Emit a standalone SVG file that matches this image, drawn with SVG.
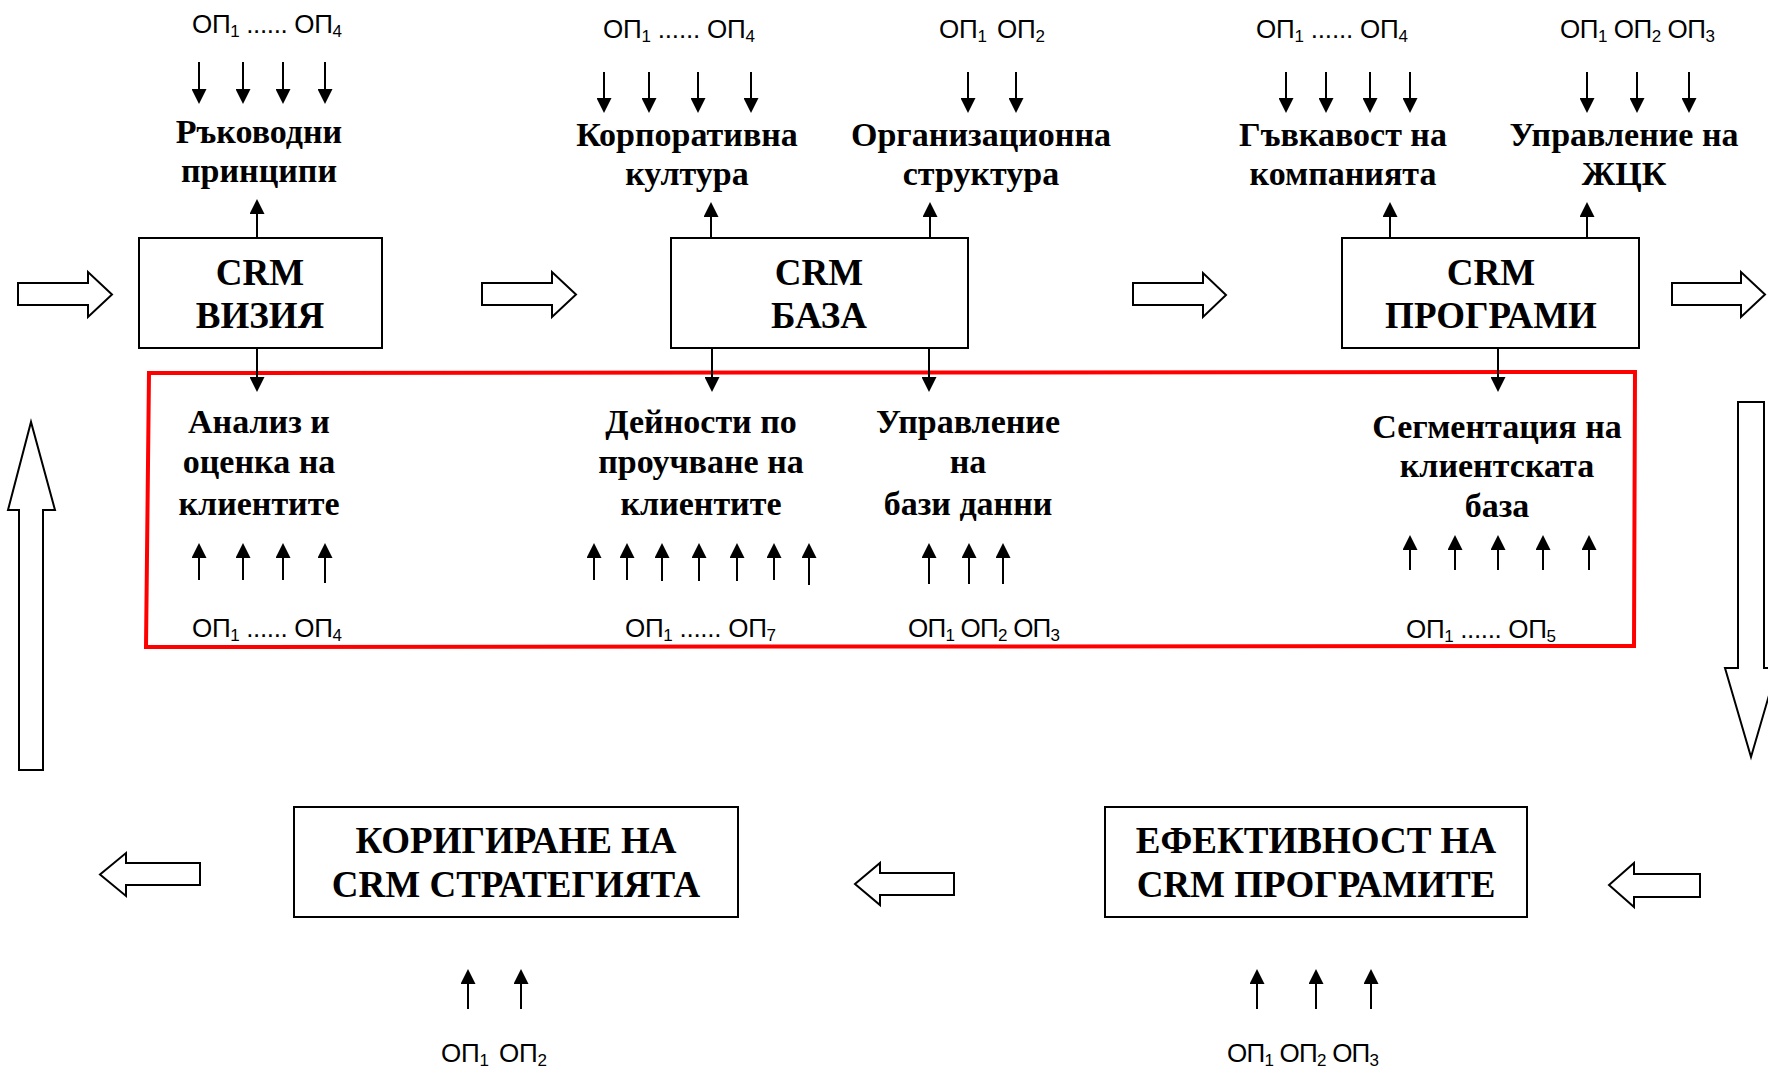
<svg xmlns="http://www.w3.org/2000/svg" width="1768" height="1068" viewBox="0 0 1768 1068">
<style>
.lbl{font-family:"Liberation Serif","Times New Roman",serif;font-weight:bold;font-size:34px;text-anchor:middle;fill:#000}
.bt{font-family:"Liberation Serif","Times New Roman",serif;font-weight:bold;font-size:37px;text-anchor:middle;fill:#000}
.op{font-family:"Liberation Sans",Arial,sans-serif;font-size:26px;fill:#000}
.sub{font-size:17px}
.box{fill:#fff;stroke:#000;stroke-width:2}
.ar{stroke:#000;stroke-width:2;fill:none;marker-end:url(#ah)}
.blk{fill:#fff;stroke:#000;stroke-width:2}
.red{fill:none;stroke:#ff0000;stroke-width:4}
</style>
<defs>
<marker id="ah" markerUnits="userSpaceOnUse" markerWidth="16" markerHeight="15" viewBox="0 0 16 15" refX="1" refY="7.5" orient="auto"><path d="M0,0 L15,7.5 L0,15 z" fill="#000"/></marker>
</defs>
<rect width="1768" height="1068" fill="#fff"/>

<path id="highlight" class="red" d="M149,373 L1635,372 L1634,646 L146,647 Z"/>

<g id="node-vision">
<rect class="box" x="139" y="238" width="243" height="110"/>
<text class="bt" x="260" y="285">CRM</text>
<text class="bt" x="260" y="328">ВИЗИЯ</text>
</g>
<g id="node-base">
<rect class="box" x="671" y="238" width="297" height="110"/>
<text class="bt" x="819" y="285">CRM</text>
<text class="bt" x="819" y="328">БАЗА</text>
</g>
<g id="node-programs">
<rect class="box" x="1342" y="238" width="297" height="110"/>
<text class="bt" x="1491" y="285">CRM</text>
<text class="bt" x="1491" y="328">ПРОГРАМИ</text>
</g>
<g id="node-correction">
<rect class="box" x="294" y="807" width="444" height="110"/>
<text class="bt" x="516" y="853">КОРИГИРАНЕ НА</text>
<text class="bt" x="516" y="897">CRM СТРАТЕГИЯТА</text>
</g>
<g id="node-efficiency">
<rect class="box" x="1105" y="807" width="422" height="110"/>
<text class="bt" x="1316" y="853">ЕФЕКТИВНОСТ НА</text>
<text class="bt" x="1316" y="897">CRM ПРОГРАМИТЕ</text>
</g>

<g id="node-principles">
<text class="op" x="192" y="33" textLength="150">ОП<tspan class="sub" dy="4">1</tspan><tspan dy="-4"> ...... ОП</tspan><tspan class="sub" dy="4">4</tspan></text>
<text class="lbl" x="259" y="143">Ръководни</text>
<text class="lbl" x="259" y="182">принципи</text>
</g>
<g id="node-culture">
<text class="op" x="603" y="38" textLength="152">ОП<tspan class="sub" dy="4">1</tspan><tspan dy="-4"> ...... ОП</tspan><tspan class="sub" dy="4">4</tspan></text>
<text class="lbl" x="687" y="146">Корпоративна</text>
<text class="lbl" x="687" y="185">култура</text>
</g>
<g id="node-structure">
<text class="op" x="939" y="38" textLength="106">ОП<tspan class="sub" dy="4">1</tspan><tspan dy="-4" dx="10">ОП</tspan><tspan class="sub" dy="4">2</tspan></text>
<text class="lbl" x="981" y="146">Организационна</text>
<text class="lbl" x="981" y="185">структура</text>
</g>
<g id="node-flexibility">
<text class="op" x="1256" y="38" textLength="152">ОП<tspan class="sub" dy="4">1</tspan><tspan dy="-4"> ...... ОП</tspan><tspan class="sub" dy="4">4</tspan></text>
<text class="lbl" x="1343" y="146">Гъвкавост на</text>
<text class="lbl" x="1343" y="185">компанията</text>
</g>
<g id="node-clv">
<text class="op" x="1560" y="38" textLength="155">ОП<tspan class="sub" dy="4">1</tspan><tspan dy="-4"> ОП</tspan><tspan class="sub" dy="4">2</tspan><tspan dy="-4"> ОП</tspan><tspan class="sub" dy="4">3</tspan></text>
<text class="lbl" x="1624" y="146">Управление на</text>
<text class="lbl" x="1624" y="185">ЖЦК</text>
</g>

<g id="node-analysis">
<text class="lbl" x="259" y="433">Анализ и</text>
<text class="lbl" x="259" y="473">оценка на</text>
<text class="lbl" x="259" y="515">клиентите</text>
<text class="op" x="192" y="637" textLength="150">ОП<tspan class="sub" dy="4">1</tspan><tspan dy="-4"> ...... ОП</tspan><tspan class="sub" dy="4">4</tspan></text>
</g>
<g id="node-research">
<text class="lbl" x="701" y="433">Дейности по</text>
<text class="lbl" x="701" y="473">проучване на</text>
<text class="lbl" x="701" y="515">клиентите</text>
<text class="op" x="625" y="637" textLength="151">ОП<tspan class="sub" dy="4">1</tspan><tspan dy="-4"> ...... ОП</tspan><tspan class="sub" dy="4">7</tspan></text>
</g>
<g id="node-databases">
<text class="lbl" x="968" y="433">Управление</text>
<text class="lbl" x="968" y="473">на</text>
<text class="lbl" x="968" y="515">бази данни</text>
<text class="op" x="908" y="637" textLength="152">ОП<tspan class="sub" dy="4">1</tspan><tspan dy="-4"> ОП</tspan><tspan class="sub" dy="4">2</tspan><tspan dy="-4"> ОП</tspan><tspan class="sub" dy="4">3</tspan></text>
</g>
<g id="node-segmentation">
<text class="lbl" x="1497" y="438">Сегментация на</text>
<text class="lbl" x="1497" y="477">клиентската</text>
<text class="lbl" x="1497" y="517">база</text>
<text class="op" x="1406" y="638" textLength="150">ОП<tspan class="sub" dy="4">1</tspan><tspan dy="-4"> ...... ОП</tspan><tspan class="sub" dy="4">5</tspan></text>
</g>
<g id="node-correction-inputs">
<text class="op" x="441" y="1062" textLength="106">ОП<tspan class="sub" dy="4">1</tspan><tspan dy="-4" dx="10">ОП</tspan><tspan class="sub" dy="4">2</tspan></text>
</g>
<g id="node-efficiency-inputs">
<text class="op" x="1227" y="1062" textLength="152">ОП<tspan class="sub" dy="4">1</tspan><tspan dy="-4"> ОП</tspan><tspan class="sub" dy="4">2</tspan><tspan dy="-4"> ОП</tspan><tspan class="sub" dy="4">3</tspan></text>
</g>

<g id="connectors">
<line class="ar" x1="199" y1="62" x2="199" y2="90"/>
<line class="ar" x1="243" y1="62" x2="243" y2="90"/>
<line class="ar" x1="283" y1="62" x2="283" y2="90"/>
<line class="ar" x1="325" y1="62" x2="325" y2="90"/>
<line class="ar" x1="604" y1="72" x2="604" y2="99"/>
<line class="ar" x1="649" y1="72" x2="649" y2="99"/>
<line class="ar" x1="698" y1="72" x2="698" y2="99"/>
<line class="ar" x1="751" y1="72" x2="751" y2="99"/>
<line class="ar" x1="968" y1="72" x2="968" y2="99"/>
<line class="ar" x1="1016" y1="72" x2="1016" y2="99"/>
<line class="ar" x1="1286" y1="72" x2="1286" y2="99"/>
<line class="ar" x1="1326" y1="72" x2="1326" y2="99"/>
<line class="ar" x1="1370" y1="72" x2="1370" y2="99"/>
<line class="ar" x1="1410" y1="72" x2="1410" y2="99"/>
<line class="ar" x1="1587" y1="72" x2="1587" y2="99"/>
<line class="ar" x1="1637" y1="72" x2="1637" y2="99"/>
<line class="ar" x1="1689" y1="72" x2="1689" y2="99"/>
<line class="ar" x1="257" y1="238" x2="257" y2="213"/>
<line class="ar" x1="711" y1="238" x2="711" y2="216"/>
<line class="ar" x1="930" y1="238" x2="930" y2="216"/>
<line class="ar" x1="1390" y1="238" x2="1390" y2="216"/>
<line class="ar" x1="1587" y1="238" x2="1587" y2="216"/>
<line class="ar" x1="257" y1="348" x2="257" y2="378"/>
<line class="ar" x1="712" y1="348" x2="712" y2="378"/>
<line class="ar" x1="929" y1="348" x2="929" y2="378"/>
<line class="ar" x1="1498" y1="348" x2="1498" y2="378"/>
<line class="ar" x1="199" y1="580" x2="199" y2="557"/>
<line class="ar" x1="243" y1="580" x2="243" y2="557"/>
<line class="ar" x1="283" y1="580" x2="283" y2="557"/>
<line class="ar" x1="325" y1="583" x2="325" y2="557"/>
<line class="ar" x1="594" y1="580" x2="594" y2="557"/>
<line class="ar" x1="627" y1="580" x2="627" y2="557"/>
<line class="ar" x1="662" y1="581" x2="662" y2="557"/>
<line class="ar" x1="699" y1="581" x2="699" y2="557"/>
<line class="ar" x1="737" y1="581" x2="737" y2="557"/>
<line class="ar" x1="774" y1="580" x2="774" y2="557"/>
<line class="ar" x1="809" y1="585" x2="809" y2="557"/>
<line class="ar" x1="929" y1="584" x2="929" y2="557"/>
<line class="ar" x1="969" y1="584" x2="969" y2="557"/>
<line class="ar" x1="1003" y1="584" x2="1003" y2="557"/>
<line class="ar" x1="1410" y1="570" x2="1410" y2="549"/>
<line class="ar" x1="1455" y1="570" x2="1455" y2="549"/>
<line class="ar" x1="1498" y1="570" x2="1498" y2="549"/>
<line class="ar" x1="1543" y1="570" x2="1543" y2="549"/>
<line class="ar" x1="1589" y1="570" x2="1589" y2="549"/>
<line class="ar" x1="468" y1="1009" x2="468" y2="983"/>
<line class="ar" x1="521" y1="1009" x2="521" y2="983"/>
<line class="ar" x1="1257" y1="1009" x2="1257" y2="983"/>
<line class="ar" x1="1316" y1="1009" x2="1316" y2="983"/>
<line class="ar" x1="1371" y1="1009" x2="1371" y2="983"/>
<polygon class="blk" points="18,283 88,283 88,272 112,294.5 88,317 88,305 18,305"/>
<polygon class="blk" points="482,283 552,283 552,272 576,294.5 552,317 552,305 482,305"/>
<polygon class="blk" points="1133,283 1203,283 1203,273 1226,295 1203,317 1203,305 1133,305"/>
<polygon class="blk" points="1672,283 1741,283 1741,272 1765,294.5 1741,317 1741,305 1672,305"/>
<polygon class="blk" points="1738,402 1764,402 1764,668 1777,668 1751,757 1725,668 1738,668"/>
<polygon class="blk" points="1700,874 1634,874 1634,863 1609,885 1634,907 1634,897 1700,897"/>
<polygon class="blk" points="954,873 880,873 880,863 855,884 880,905 880,895 954,895"/>
<polygon class="blk" points="200,863 126,863 126,853 100,874.5 126,896 126,885 200,885"/>
<polygon class="blk" points="19,770 19,510 8,510 31,422 55,510 43,510 43,770"/>
</g>
</svg>
